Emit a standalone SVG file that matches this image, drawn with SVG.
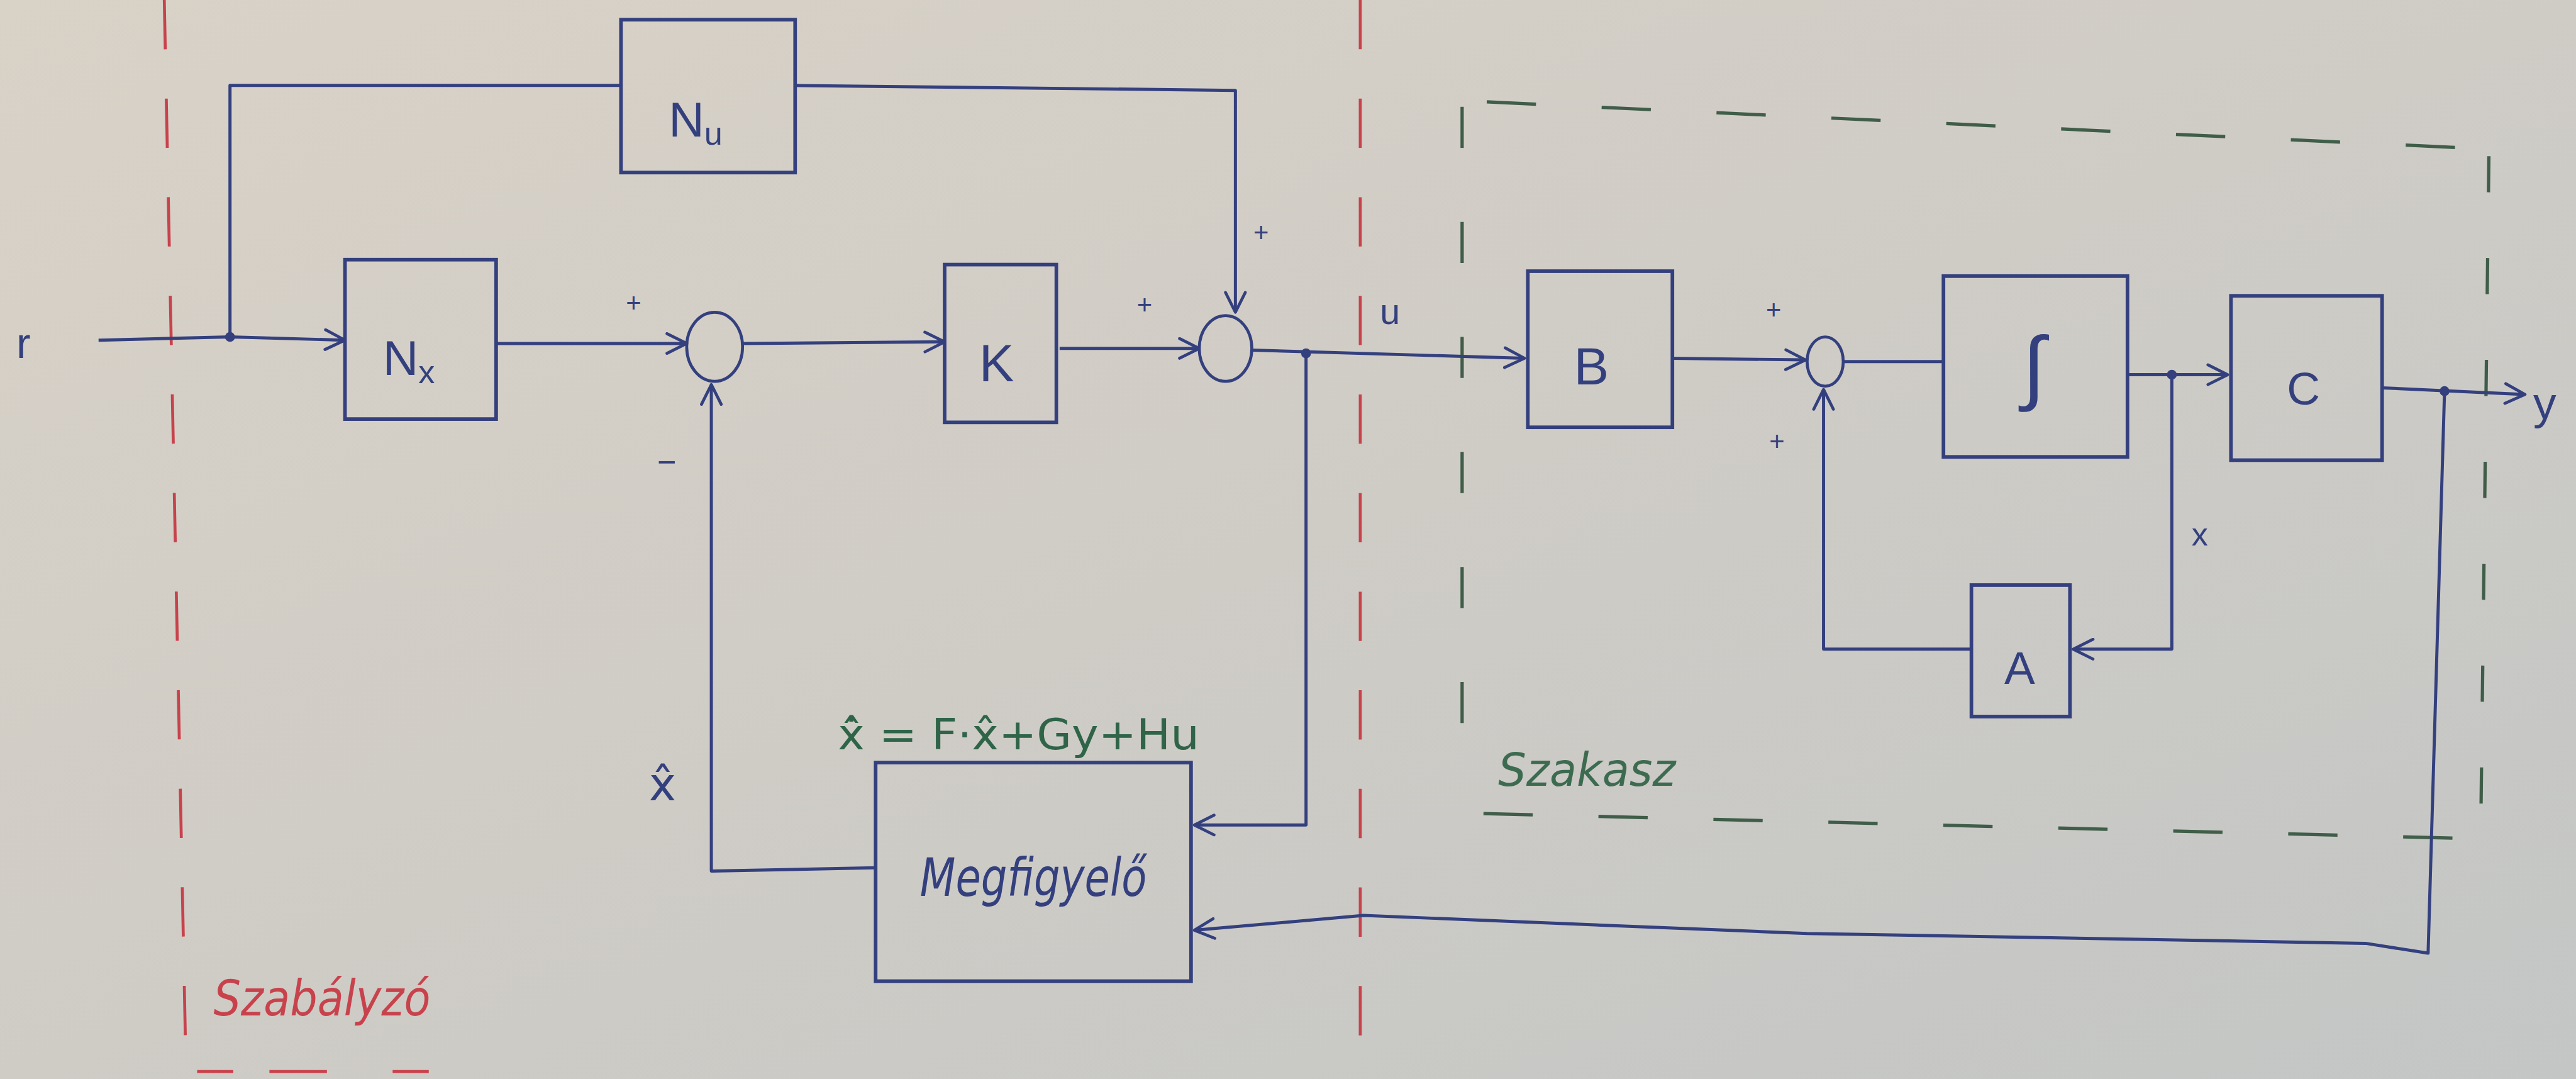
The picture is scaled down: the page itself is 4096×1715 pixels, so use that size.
<svg xmlns="http://www.w3.org/2000/svg" width="4096" height="1715" viewBox="0 0 4096 1715">
<defs>
<linearGradient id="paper" x1="0" y1="0" x2="1" y2="1">
<stop offset="0" stop-color="#d9d2c7"/><stop offset="0.5" stop-color="#cfccc6"/><stop offset="1" stop-color="#c3c6c5"/>
</linearGradient>
<marker id="arr" viewBox="0 0 14 14" refX="13" refY="7" markerWidth="14" markerHeight="14" markerUnits="userSpaceOnUse" orient="auto">
<path d="M1,1 L13,7 L1,13" fill="none" stroke="#34407e" stroke-width="1.8" stroke-linecap="round" stroke-linejoin="round"/>
</marker>
<style>
.box{fill:none;stroke:#34407e;stroke-width:2.2}
.sum{fill:none;stroke:#34407e;stroke-width:1.8}
.wire{fill:none;stroke:#34407e;stroke-width:1.9;stroke-linejoin:round}
.arw{marker-end:url(#arr)}
.dot{fill:#34407e}
.red{fill:none;stroke:#c8424c;stroke-width:1.8;stroke-dasharray:30 30}
.grn{fill:none;stroke:#3f5d48;stroke-width:2;stroke-dasharray:30 40}
.t{font-family:"Liberation Sans","DejaVu Sans",sans-serif;fill:#34407e}
.dj{font-family:"DejaVu Sans","Liberation Sans",sans-serif}
.hand{font-family:"DejaVu Sans","Liberation Sans",sans-serif;font-style:italic}
.sg{font-size:16px}
</style>
</defs>
<rect width="4096" height="1715" fill="url(#paper)"/>
<g transform="scale(2.6122)">
<g id="boundaries">
<path class="red" d="M100,0 L113,640"/>
<path class="red" d="M828,0 L828,657"/>
<path class="red" d="M120,652 L280,652" style="stroke-dasharray:22 22 35 40"/>
<path class="grn" d="M905,62 L1500,90"/>
<path class="grn" d="M1515,95 L1510,510" style="stroke-dasharray:22 40"/>
<path class="grn" d="M903,495 L1495,510"/>
<path class="grn" d="M890,65 L890,475" style="stroke-dasharray:25 45"/>
</g>
<g id="connectors">
<path class="wire arw" d="M60,207 L140,205 L210,207"/>
<path class="wire" d="M140,205 L140,52 L378,52"/>
<path class="wire arw" d="M484,52 L752,55 L752,190"/>
<path class="wire arw" d="M302,209 L418,209"/>
<path class="wire arw" d="M452,209 L575,208"/>
<path class="wire arw" d="M645,212 L730,212"/>
<path class="wire arw" d="M762,213 L928,218"/>
<path class="wire arw" d="M795,215 L795,502 L727,502"/>
<path class="wire arw" d="M533,528 L433,530 L433,234"/>
<path class="wire arw" d="M1018,218 L1099,219"/>
<path class="wire" d="M1122,220 L1183,220"/>
<path class="wire arw" d="M1295,228 L1356,228"/>
<path class="wire arw" d="M1322,228 L1322,395 L1262,395"/>
<path class="wire arw" d="M1200,395 L1110,395 L1110,237"/>
<path class="wire arw" d="M1450,236 L1537,240"/>
<path class="wire arw" d="M1488,238 L1478,580 L1440,574 L1100,568 L830,557 L727,566"/>
<circle class="dot" cx="140" cy="205" r="3"/>
<circle class="dot" cx="795" cy="215" r="3"/>
<circle class="dot" cx="1322" cy="228" r="3"/>
<circle class="dot" cx="1488" cy="238" r="3"/>
</g>
<g id="Nu"><rect class="box" x="378" y="12" width="106" height="93"/><text class="t" x="407" y="83" font-size="30">N<tspan font-size="20" dy="5">u</tspan></text></g>
<g id="Nx"><rect class="box" x="210" y="158" width="92" height="97"/><text class="t" x="233" y="228" font-size="30">N<tspan font-size="20" dy="5">x</tspan></text></g>
<g id="K"><rect class="box" x="575" y="161" width="68" height="96"/><text class="t" x="596" y="232" font-size="32">K</text></g>
<g id="sum1"><ellipse class="sum" cx="435" cy="211" rx="17" ry="21"/></g>
<g id="sum2"><ellipse class="sum" cx="746" cy="212" rx="16" ry="20"/></g>
<g id="Meg"><rect class="box" x="533" y="464" width="192" height="133"/><text class="t hand" x="629" y="545" font-size="32" text-anchor="middle" textLength="138" lengthAdjust="spacingAndGlyphs">Megfigyelő</text></g>
<g id="B"><rect class="box" x="930" y="165" width="88" height="95"/><text class="t" x="958" y="234" font-size="32">B</text></g>
<g id="sum3"><ellipse class="sum" cx="1111" cy="220" rx="11" ry="15"/></g>
<g id="Int"><rect class="box" x="1183" y="168" width="112" height="110"/><text class="t" x="1238" y="240" font-size="50" text-anchor="middle">∫</text></g>
<g id="C"><rect class="box" x="1358" y="180" width="92" height="100"/><text class="t" x="1392" y="246" font-size="28">C</text></g>
<g id="A"><rect class="box" x="1200" y="356" width="60" height="80"/><text class="t" x="1220" y="416" font-size="28">A</text></g>
<g id="labels">
<text class="t" x="10" y="218" font-size="26">r</text>
<text class="t sg" x="381" y="190">+</text>
<text class="t sg" x="692" y="191">+</text>
<text class="t sg" x="763" y="147">+</text>
<text class="t sg" x="1075" y="194">+</text>
<text class="t sg" x="1077" y="274">+</text>
<text class="t" x="400" y="288" font-size="20">−</text>
<text class="t" x="840" y="197" font-size="22">u</text>
<text class="t" x="1334" y="332" font-size="20">x</text>
<text class="t" x="1542" y="255" font-size="28">y</text>
<text class="t dj" x="395" y="487" font-size="28">x̂</text>
<text class="t dj" x="620" y="456" font-size="26" text-anchor="middle" textLength="220" lengthAdjust="spacingAndGlyphs" style="fill:#2f6448">x̂̇ = F·x̂+Gy+Hu</text>
<text class="t hand" x="130" y="618" font-size="30" textLength="132" lengthAdjust="spacingAndGlyphs" style="fill:#c8424c">Szabályzó</text>
<text class="t hand" x="912" y="478" font-size="28" textLength="108" lengthAdjust="spacingAndGlyphs" style="fill:#3d6b50">Szakasz</text>
</g>
</g>
</svg>
